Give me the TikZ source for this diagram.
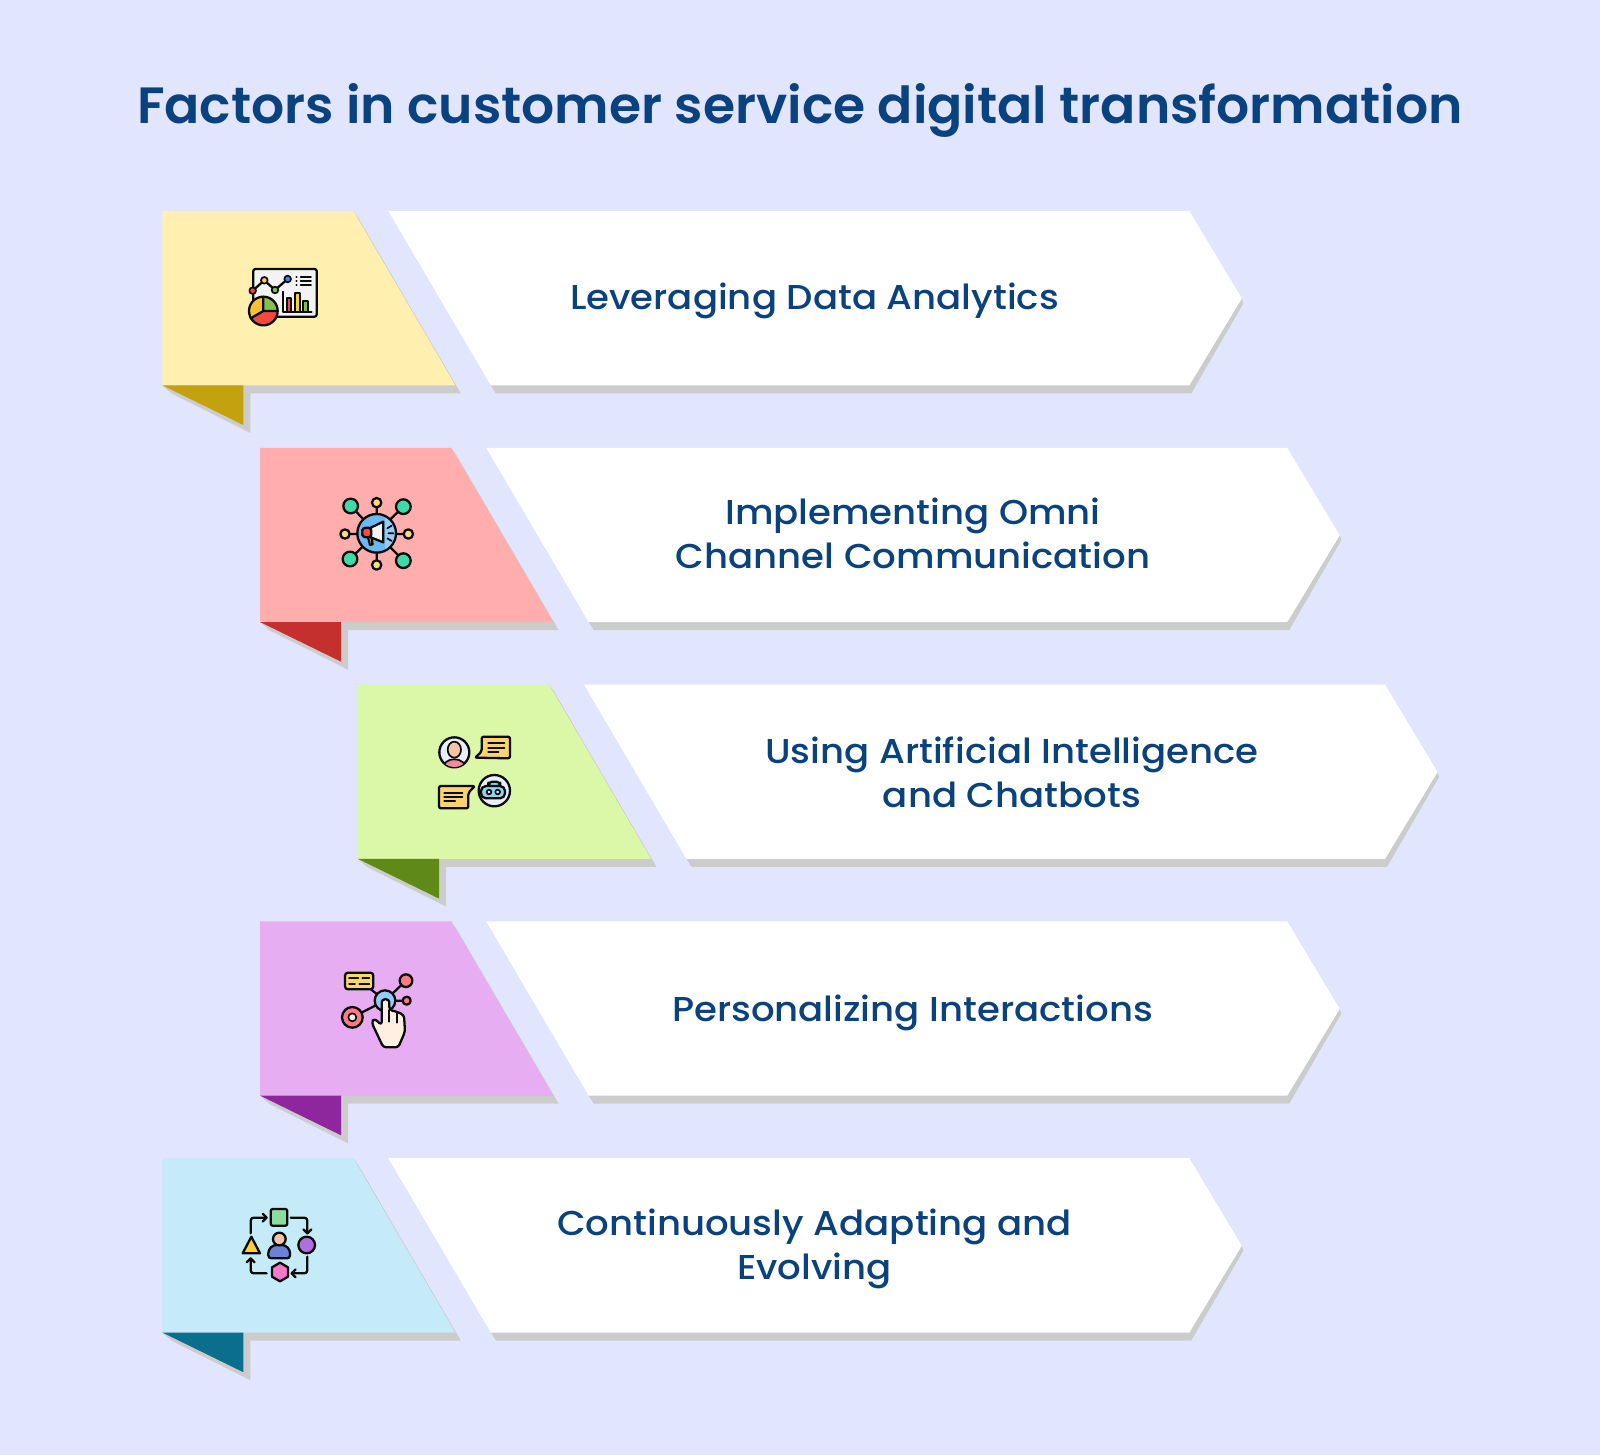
\documentclass[tikz,border=0pt]{standalone}
\usepackage{fontspec}
\setmainfont{Poppins}
\newfontfamily\titlefont[FakeStretch=1.02]{Poppins SemiBold}
\newfontfamily\labelfont[FakeStretch=1.075]{Poppins Medium}
\definecolor{bgc}{HTML}{E1E5FE}
\definecolor{shadowc}{HTML}{CCCCCC}
\definecolor{txtc}{HTML}{0A417F}
\definecolor{inkc}{HTML}{0B0B0B}
\definecolor{lightA}{HTML}{FFF0B0}\definecolor{darkA}{HTML}{C4A20F}
\definecolor{lightB}{HTML}{FFADAD}\definecolor{darkB}{HTML}{C5302E}
\definecolor{lightC}{HTML}{DBF7A8}\definecolor{darkC}{HTML}{5F8A18}
\definecolor{lightD}{HTML}{E6ADF2}\definecolor{darkD}{HTML}{8E279E}
\definecolor{lightE}{HTML}{C5EBF8}\definecolor{darkE}{HTML}{0B6E8C}
\definecolor{icred}{HTML}{F8483C}\definecolor{icyel}{HTML}{FBD03A}
\definecolor{icgrn}{HTML}{84BF4A}\definecolor{icorg}{HTML}{FBC02D}
\definecolor{icblu}{HTML}{2D8CF0}\definecolor{icpap}{HTML}{F3F3F3}
\definecolor{sea}{HTML}{3DDBA8}\definecolor{sky}{HTML}{6CB8F2}
\definecolor{skyl}{HTML}{93CDF6}\definecolor{butter}{HTML}{FBD36E}
\definecolor{peach}{HTML}{F8C4A8}\definecolor{rose}{HTML}{F28C98}
\definecolor{pale}{HTML}{E8EFF8}\definecolor{cyanb}{HTML}{8FD4EE}
\definecolor{coral}{HTML}{F87C84}\definecolor{cream}{HTML}{FFEFE2}
\definecolor{leaf}{HTML}{8EDB9E}\definecolor{violet}{HTML}{B070DC}
\definecolor{hotp}{HTML}{F878CE}\definecolor{slateb}{HTML}{6C80D8}
\tikzset{
  rowlabel/.style={text=txtc,align=center,font=\labelfont\fontsize{34.5}{44}\selectfont},
  ttl/.style={text=txtc,font=\titlefont\fontsize{51}{58}\selectfont},
  ink/.style={draw=inkc,line width=2.3pt,line join=round,line cap=round},
  thinink/.style={draw=inkc,line width=1.7pt,line join=round,line cap=round},
  zoomed/.style={x=0.3333pt,y=-0.3333pt},
}
\newcommand{\Ribbon}[4]{%
 \begin{scope}[shift={(#1,#2)}]
  \fill[shadowc] (0,174.3) -- (9,182.3) -- (88,222) -- (88,182.3) -- (298.5,182.3) -- (196,7) -- (191,0) -- cycle;
  \fill[#3] (0,0) -- (191,0) -- (293,174.3) -- (0,174.3) -- cycle;
  \fill[#4] (0,174.3) -- (81,214) -- (81,174.3) -- cycle;
  \fill[shadowc] (328.5,174.3) -- (333.5,182.3) -- (1029,182.3) -- (1081,92.5) -- (1079.5,87.5) -- cycle;
  \fill[white] (226,0) -- (1027,0) -- (1079.5,87.5) -- (1027,174.3) -- (328.5,174.3) -- cycle;
 \end{scope}}
\begin{document}
\begin{tikzpicture}[x=1pt,y=-1pt]
\useasboundingbox (0,0) rectangle (1600,1455);
\fill[bgc] (0,0) rectangle (1600,1455);
\node[ttl] (title) at (800,110) {Factors in customer service digital transformation};
\Ribbon{162.3}{211}{lightA}{darkA}
\Ribbon{260.2}{447.8}{lightB}{darkB}
\Ribbon{358}{684.6}{lightC}{darkC}
\Ribbon{260.2}{921.4}{lightD}{darkD}
\Ribbon{162.3}{1158.2}{lightE}{darkE}
\node[rowlabel] (l1) at (814.5,301) {Leveraging Data Analytics};
\node[rowlabel] (l2) at (913,533.5) {Implementing Omni\\Channel Communication};
\node[rowlabel] (l3) at (1012,772) {Using Artificial Intelligence\\and Chatbots};
\node[rowlabel] (l4) at (912.5,1013) {Personalizing Interactions};
\node[rowlabel] (l5) at (814.5,1249) {Continuously Adapting and\\Evolving};
% icon 1: analytics board
\begin{scope}[shift={(230,255)},zoomed]
 \filldraw[ink,fill=icpap,rounded corners=2pt] (70,42) rectangle (260,185);
 \draw[ink] (68,107) -- (103,76) -- (135,105) -- (173,72);
 \filldraw[thinink,fill=icred] (68,107) circle (10);
 \filldraw[thinink,fill=icyel] (103,76) circle (10);
 \filldraw[thinink,fill=icgrn] (135,105) circle (10);
 \filldraw[thinink,fill=icblu] (173,72) circle (10);
 \draw[thinink] (212,65) -- (243,65) (212,78) -- (243,78) (212,91) -- (243,91);
 \draw[thinink] (199,65) -- (200,65) (199,78) -- (200,78) (199,91) -- (200,91);
 \filldraw[thinink,fill=icred] (172,172) rectangle (184,128);
 \filldraw[thinink,fill=icyel] (195,172) rectangle (210,115);
 \filldraw[thinink,fill=icgrn] (220,172) rectangle (234,137);
 \draw[thinink] (160,110) -- (160,172) -- (245,172);
 \begin{scope}
  \clip (100,168) circle (43);
  \fill[icred] (40,110) rectangle (160,230);
  \fill[icgrn] (100,110) rectangle (160,168);
  \fill[icorg] (100,168) -- (100,110) -- (40,110) -- (40,203) -- cycle;
 \end{scope}
 \draw[ink] (100,168) circle (43);
 \draw[ink] (100,125) -- (100,168) -- (143,168) (100,168) -- (62,190);
\end{scope}
% icon 2: megaphone network
\begin{scope}[shift={(330,485)},zoomed]
 \draw[ink] (62,63) -- (220,227) (220,65) -- (60,222) (140,53) -- (140,240) (45,147) -- (235,147);
 \begin{scope}
  \clip (140,145) circle (58);
  \fill[sky] (80,85) rectangle (200,205);
  \fill[skyl] (165,85) rectangle (200,205);
 \end{scope}
 \draw[ink] (140,145) circle (58);
 \foreach \p/\r in {62/63,220/65,60/222,220/227}{\filldraw[ink,fill=sea] (\p,\r) circle (22);}
 \foreach \p/\r in {140/53,45/147,235/147,140/240}{\filldraw[ink,fill=icyel!70!white] (\p,\r) circle (14);}
 \filldraw[ink,fill=icpap] (113,152) -- (120,180) -- (128,178) -- (123,152) -- cycle;
 \filldraw[ink,fill=icpap] (122,128) -- (160,110) -- (160,172) -- (122,157) -- cycle;
 \filldraw[ink,fill=icred,rounded corners=3pt] (124,128) -- (98,128) -- (96,142) -- (98,157) -- (124,157) -- cycle;
 \draw[thinink] (172,130) -- (185,122) (175,145) -- (190,145) (172,160) -- (185,168);
\end{scope}
% icon 3: chat
\begin{scope}[shift={(425,725)},zoomed]
 \filldraw[ink,fill=pale] (88,82) circle (45);
 \begin{scope}
  \clip (88,82) circle (44);
  \filldraw[thinink,fill=rose] (52,135) .. controls (52,92) and (124,92) .. (124,135) -- cycle;
 \end{scope}
 \filldraw[thinink,fill=peach] (88,74) ellipse (20 and 24);
 \filldraw[ink,fill=butter,rounded corners=2pt] (150,98) -- (170,80) -- (170,35) -- (255,35) -- (255,100) -- cycle;
 \draw[ink] (190,55) -- (238,55) (190,68) -- (238,68) (190,81) -- (220,81);
 \filldraw[ink,fill=butter,rounded corners=2pt] (150,183) -- (130,203) -- (130,250) -- (42,250) -- (42,183) -- cycle;
 \draw[ink] (58,205) -- (112,205) (58,217) -- (112,217) (58,229) -- (90,229);
 \filldraw[ink,fill=pale] (208,197) circle (47);
 \filldraw[ink,fill=cyanb,rounded corners=4pt] (190,185) -- (190,170) -- (226,170) -- (226,185) -- cycle;
 \filldraw[ink,fill=cyanb,rounded corners=5pt] (168,183) rectangle (240,220);
 \filldraw[thinink,fill=pale] (192,201) circle (7);
 \filldraw[thinink,fill=pale] (218,201) circle (7);
\end{scope}
% icon 4: touch network
\begin{scope}[shift={(330,960)},zoomed]
 \draw[ink] (67,172) -- (165,122) (88,60) -- (165,122) (228,62) -- (165,122) (230,122) -- (165,122);
 \filldraw[ink,fill=butter!90!yellow,rounded corners=3pt] (45,38) rectangle (130,88);
 \draw[thinink] (57,55) -- (85,55) (97,55) -- (118,55) (57,72) -- (75,72) (88,72) -- (118,72);
 \filldraw[ink,fill=coral] (67,172) circle (31);
 \filldraw[thinink,fill=icpap] (67,172) circle (12);
 \filldraw[ink,fill=skyl] (165,122) circle (31);
 \filldraw[ink,fill=coral] (228,62) circle (19);
 \filldraw[ink,fill=coral] (230,122) circle (12);
 \filldraw[ink,fill=cream,rounded corners=3pt] (155,195) -- (155,118) -- (178,118) -- (178,150) -- (200,155) -- (222,165) -- (225,215) -- (205,262) -- (160,262) -- (125,188) -- (132,175) -- cycle;
 \draw[thinink] (178,150) -- (178,185) (200,155) -- (200,188);
\end{scope}
% icon 5: adaptive cycle
\begin{scope}[shift={(230,1195)},zoomed]
 \draw[ink,rounded corners=3pt] (62,115) -- (62,68) -- (110,68);
 \draw[ink] (98,56) -- (110,68) -- (98,80);
 \draw[ink,rounded corners=3pt] (182,68) -- (232,68) -- (232,115);
 \draw[ink] (220,103) -- (232,115) -- (244,103);
 \draw[ink,rounded corners=3pt] (232,185) -- (232,235) -- (185,235);
 \draw[ink] (197,223) -- (185,235) -- (197,247);
 \draw[ink,rounded corners=3pt] (110,235) -- (62,235) -- (62,190);
 \draw[ink] (50,202) -- (62,190) -- (74,202);
 \filldraw[ink,fill=leaf,rounded corners=2pt] (122,42) rectangle (172,92);
 \filldraw[ink,fill=icyel] (64,125) -- (38,175) -- (90,175) -- cycle;
 \filldraw[ink,fill=violet] (230,150) circle (25);
 \filldraw[ink,fill=hotp] (150,203) -- (174,217) -- (174,245) -- (150,259) -- (126,245) -- (126,217) -- cycle;
 \filldraw[ink,fill=slateb,rounded corners=3pt] (115,190) -- (115,165) -- (130,150) -- (165,150) -- (180,165) -- (180,190) -- cycle;
 \filldraw[ink,fill=peach] (148,132) circle (19);
\end{scope}
\end{tikzpicture}
\end{document}
